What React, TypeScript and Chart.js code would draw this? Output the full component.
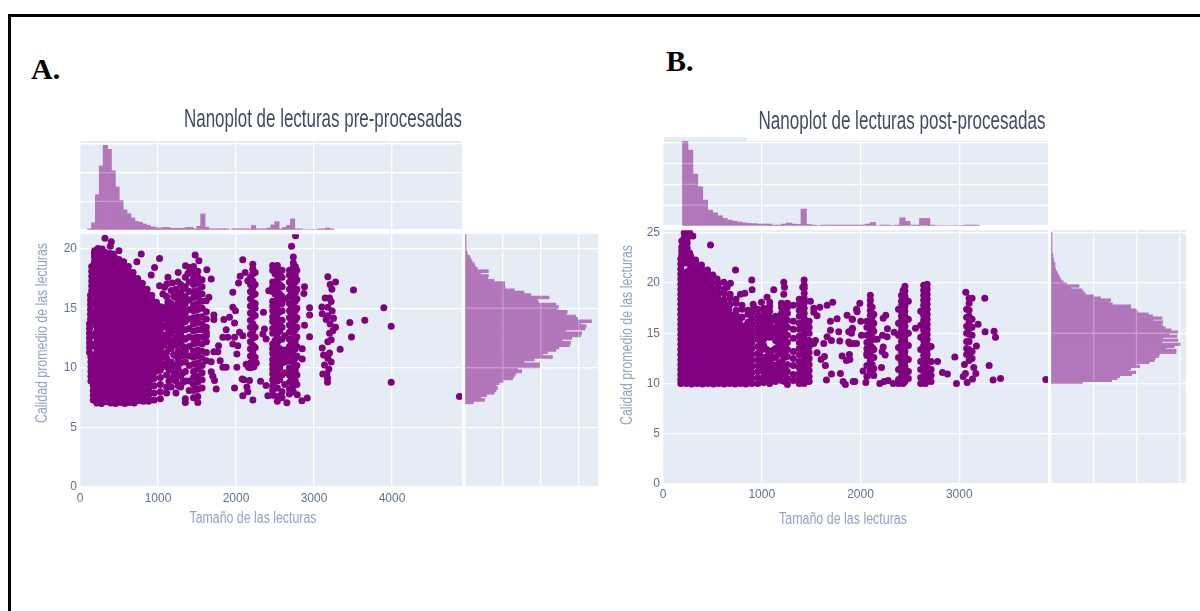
import React, { useEffect, useRef } from "react";
import { Chart, registerables } from "chart.js";

Chart.register(...registerables);

const PURPLE = "#800080";
const BAR = "#b276bb";
const PLOT_BG = "#e5ecf6";
const TICK = "#62718e";
const AXIS_TITLE = "#93a3bf";
const TITLE = "#3f4d63";
const NARROW = '"Liberation Sans Narrow", "Liberation Sans", sans-serif';

// ---------- Tick values ----------
const lengthTicksA = [0,1000,2000,3000,4000];
const lengthTicksB = [0,1000,2000,3000];
const qualityTicksA = [0,5,10,15,20];
const qualityTicksB = [0,5,10,15,20,25];
const countTicks = [0,100,200,300];
const countTicksTopB = [0,100,200,300,400];

// ---------- Panel A: top histogram (read length, bins of 50) ----------
const topBinsA = [100,150,200,250,300,350,400,450,500,550,600,650,700,750,800,850,900,950,1000,1050,1100,1150,1200,1250,1300,1350,1400,1450,1500,1550,1600,1650,1700,1750,1800,1850,1900,1950,2000,2050,2100,2150,2200,2250,2300,2350,2400,2450,2500,2550,2600,2650,2700,2750,2800,2850,2900,2950,3000,3050,3100,3150,3200];
const topCountsA = [3,24,122,222,294,280,205,149,102,69,56,41,29,26,20,15,10,8,6,8,8,5,5,5,5,8,8,3,12,55,9,3,3,3,3,3,0,3,3,3,3,3,15,3,3,3,6,17,28,3,8,15,38,3,3,0,0,0,0,3,3,6,3];

// ---------- Panel A: right histogram (mean quality, bins of 0.2) ----------
const rightCountsA = [21,51,41,56,76,81,85,81,89,100,125,129,133,149,138,196,196,155,182,230,204,217,239,247,275,278,256,281,304,307,265,316,319,304,333,296,291,267,269,243,246,239,193,190,221,173,155,129,105,104,104,76,59,61,41,61,32,26,24,18,15,12,6,4,2,2,1,1,1,1,1];

// ---------- Panel B: top histogram ----------
const topBinsB = [200,250,300,350,400,450,500,550,600,650,700,750,800,850,900,950,1000,1050,1100,1150,1200,1250,1300,1350,1400,1450,1500,1550,1600,1650,1700,1750,1800,1850,1900,1950,2000,2050,2100,2150,2200,2250,2300,2350,2400,2450,2500,2550,2600,2650,2700,2750,2800,2850,2900,2950,3000,3050,3100,3150];
const topCountsB = [406,363,248,187,123,75,62,48,35,27,22,18,14,11,10,8,8,8,3,3,8,13,8,6,80,6,3,0,3,3,3,3,3,3,3,3,3,8,16,0,3,3,0,3,38,21,3,3,35,35,3,0,0,0,0,0,0,3,3,3];

// ---------- Panel B: right histogram ----------
const rightCountsB = [73,141,154,160,188,198,182,186,207,200,229,241,243,251,253,292,292,268,288,302,259,296,261,294,276,296,280,267,261,257,261,239,259,237,227,202,199,186,186,143,135,139,115,99,80,76,72,46,65,36,28,23,20,18,15,13,10,9,7,9,6,5,4,4,3,1,1,1,1,1,1,1,1,1,1];

// ---------- Scatter A: each row is [read length, quality, quality, ...] ----------
const denseA = [
  [270,8.3,9.2,10.1,11,11.9,12.8,13.7,14.6,15.5,16.4,17.3,18.2,18.7],
  [410,8.3,9.2,10.1,11,11.9,12.8,13.7,14.6,15.5,16.4,17.3,18.2],
  [550,8.3,9.2,10.1,11,11.9,12.8,13.7,14.6,15.5,16.4,17.3,17.8],
  [690,8.3,9.2,10.1,11,11.9,12.8,13.7,14.6,15.5,16.4,16.8],
  [830,9.1,10,10.9,11.8,12.7,13.6,14.5,15.4,15.7],
  [970,10.2,11,11.8,12.6,13.4,14.2,14.8],
];
const edgeA = [
  [170,7.3,7.7,8.1,8.5],
  [140,8.9,9.3,9.7,10.1,10.5,10.9],
  [122,11.3,11.7,12.1,12.5,12.9,13.3,13.7],
  [135,14.1,14.5,14.9,15.3,15.7,16.1],
  [150,16.5,16.9,17.3,17.7,18.1,18.5],
  [185,18.9,19.3,19.6],
  [215,7.05,7.5,7.9],[275,7.0,7.45,7.85],[335,7.15,7.55,7.95],[395,7.05,7.5,7.9],[455,7.0,7.4,7.9],[515,7.1,7.5,7.95],[575,7.0,7.45,7.9],[635,7.1,7.5,7.9],[695,7.05,7.5,7.95],[755,7.25,7.6,8],[815,7.2,7.6,8.1],
  [230,19.5,19.1],[260,19.6,19.2],[320,19.7,19.3,18.9],[380,19.6,19.2,18.8],[440,19.3,18.9,18.5],[500,19.1,18.7,18.3],[560,18.9,18.5],[620,18.5,18.1,17.7],[680,18,17.6,17.2],[740,17.5,17.1,16.7],[800,17.1,16.7,16.3],[860,16.6,16.2],[920,16.1,15.7,15.3],[980,15.5,15.1],[1040,15.1,14.7],
  [880,7.2,7.7,8.2,8.7,9.1],[950,7.3,7.9,8.5,9.1,9.6],[1030,7.4,8,8.6,9.2,9.8],
  [1075,10.3,11.1,11.9,12.7,13.5,14.3],
  [1110,7.9,8.4,9.4,10.1,10.8,11.3,12.2,12.8,13.4,14,14.6,15.1,16],
  [1140,8.9,9.9,10.5,11.6,12.5,13.1,13.7,14.4,15.5],
  [1170,8.4,9,9.8,10.5,11.6,12,12.9,13.5,14.2,14.8,15.4,16.5],
  [1200,9.3,10.2,11.1,12.3,13.2,13.9,14.6,15.1,16],
  [1230,7.9,8.9,9.5,10.2,11,11.9,12.5,13.2,13.8,14.4,15.2,15.9,16.6],
  [1260,8.5,9.9,10.7,11.4,12.2,12.9,13.5,14.1,14.8,15.5,16.3],
  [1290,8.4,9.3,10.4,11.2,12,12.8,13.4,14,14.7,15.3,16.2,17],
  [1320,8.8,9.6,11,11.8,12.5,13.2,13.8,14.4,15,15.7,16.6],
  [1350,7.1,7.4,8.9,9.7,10.5,11.4,12.4,13.2,13.9,14.6,15.4,16,16.8,17.6],
  [1400,8.1,8.9,10.2,11,11.8,12.6,13.3,14.1,14.9,15.7,16.4,17.2,18],
  [1455,7.5,8.1,8.6,9.2,9.7,10.3,10.9,11.4,12,12.5,13.1,13.7,14.2,14.8,15.3,15.9,16.4,17,17.5,18,18.5],
  [1510,7.1,7.6,8.2,8.8,9.3,9.9,10.4,11,11.5,12.1,12.6,13.2,13.8,14.3,14.9,15.4,16,16.5,17.1,17.6,18.1],
  [1565,8.3,9,9.6,10.2,10.8,11.4,12,12.6,13.2,13.7,14.3,15,15.6,16.2,16.8,17.4],
  [1620,10.6,11.3,12.2,12.7,13,13.4,14.1,14.7],
];
const scatteredA = [
  [320,20.87],[401,20.59],[388,20.2],[230,20.03],[285,19.97],[187,19.83],[499,19.83],[422,19.55],[785,19.55],[1020,19.19],[729,18.91],[956,18.43],
  [1477,19.47],[1524,19],[1353,18.57],[1404,18.43],[913,17.79],[1259,18.01],[1127,17.6],[1383,17.9],[1626,18.24],[1682,17.46],[1255,17.23],[1182,17.12],
  [1020,16.9],[1084,16.76],[1114,17.04],[1255,16.06],[1063,16.2],[1127,15.5],[1652,15.92],[1618,15.64],[1716,14.44],[1716,14.05],[1844,14.05],[1916,14.24],
  [1959,16.34],[2087,19.08],[2053,17.68],[2117,18.01],[2032,17.12],[2151,17.32],[2420,16.48],[1959,15.08],[1993,14.8],[2352,14.66],[1981,13.77],[1874,13.2],
  [2365,13.26],[2344,12.84],[2386,12.42],[1831,12.56],[1895,12.56],[1981,12.56],[2045,12.98],[2087,12.7],[1959,12],[2023,11.86],[1776,11.86],[1716,11.36],
  [1767,11.36],[2011,11.16],[1682,10.52],[1797,10.6],[1831,10.05],[1874,10.05],[2011,10.05],[1682,9.68],[1703,9.29],[1724,8.93],[1746,8.23],[2079,9.07],
  [2173,8.93],[2314,8.87],[1981,8.31],[2087,7.67],[2151,8],[2216,7.3],[2408,7.67],[2386,8.51],
  [2763,21.1],[2712,20.2],[2878,16.8],[2870,16.25],[2943,15.05],[2943,14.44],[2878,13.57],[2943,12.62],[2849,11.6],[2849,10.75],[2913,7.47],[2844,7.25],[2785,7.75],[2652,7.08],
  [3177,17.65],[3276,17.2],[3207,17],[3229,16.6],[3506,16.53],[3895,15.05],[3651,14],[3459,13.8],[3989,13.5],[3480,12.6],[3335,11.56],[3989,8.8],[4864,7.6],
  [3143,15.86],[3199,15.86],[3220,15.58],[3100,15.1],[3177,15.08],[3233,14.77],[3105,14.55],[3177,14.38],[3250,14.16],[3156,14.05],[3207,13.68],[3276,13.4],[3241,13.12],[3199,12.9],[3220,12.37],[3177,12.2],
  [3105,11.67],[3199,11.25],[3122,11.08],[3177,10.8],[3220,10.5],[3135,10.24],[3190,9.9],[3113,9.49],[3165,9.49],[3173,9.12],[3173,8.8],
  [2130,10.3],[2160,10.05],[2190,10],[2230,10.1],[2260,10.4],[2100,9],[2140,8.4],
];
const stripsA = [
  [2185,10.4,11,11.6,12.2,12.8,13.4,14,14.6,15.2,15.8,16.4,17,17.6],
  [2215,10.7,11.3,11.9,12.5,13.1,13.7,14.3,14.9,15.5,16.1,16.7,17.3,17.9,18.3,18.7],
  [2245,10.9,11.7,12.6,13.4,14.4,15,15.4,16.2,17,18],
  [2470,18.6,18.2,17.2,16.8,16.4,15.6,15.2,14.8,14.3,13.9,13.3,12.9,12,11.6,11.2,10.7,10.3,9.9,9.5,9,8.5,8.1,7.7],
  [2500,17.9,16.2,15.4,14.6,13.8,13.1,12.3,11.5,10.8,10.1,9.2,8.3],
  [2530,18.6,18.1,17.7,17.3,16.9,16.5,16.1,15.7,15.3,14.9,14.5,14.1,13.7,13.3,12.9,12.5,12.1,11.7,11.3,10.9,10.5,10.1,9.7,9.3,8.9,8.3,7.6,7.2],
  [2560,17.9,17,16.2,15.5,14.7,13.9,13.1,12.4,11.6,10.8,10,9],
  [2590,18.2,17.6,16.8,16,15.4,14.8,14,13.4,12.4,11.2,10.4,9.4,8,7.5],
  [2625,11.5,11,10.5,12.7,15.8,8.6,9.6],
  [2685,18.2,17.8,17.2,16.6,16,15.4,14.8,14.2,13.6,13,12.4,11.8,11.2,10.6,10,9.4,8.8,8.2,7.8],
  [2710,17.5,16.8,16.2,15.2,14.4,13.8,13.2,12.2,11.6,10.8,9.7,9.1],
  [2735,19.3,18.8,18.4,18,17.5,17,16.5,16,15.5,15,14.5,14,13.5,13,12.5,12,11.5,11,10.5,10,9.5,9,8.5,8],
  [2760,18.5,17.8,17.2,16.3,15.6,14.8,14,13.2,12.3,11.6,10.8,9.8,8.9],
  [2780,18.2,17.4,16.6,15.8,15,14.2,13.4,12.6,11.8,11,10.2,9.4,8.6],
];

// ---------- Scatter B ----------
const denseB = [
  [280,10.9,12,13.1,14.2,15.3,16.4,17.5,18.6,19.7,20.7],
  [390,10.9,12,13.1,14.2,15.3,16.4,17.5,18.6,19.6],
  [500,10.9,12,13.1,14.2,15.3,16.4,17.5,18.5],
  [610,10.9,12,13.1,14.2,15.3,16.4,17.4],
  [720,10.9,12,13.1,14.2,15.3,16.3],
  [830,10.9,12,13.1,14.2,15.2],
];
const edgeB = [
  [180,10,10.4,10.9,11.4,11.9,12.4,12.9,13.4,13.9,14.4,14.9,15.4,15.9,16.4,16.9,17.4,17.9,18.4,18.9,19.4,19.9,20.4,20.9,21.4,21.9,22.4],
  [190,22.8,23.2,23.6,24.2],[215,22,22.5,23.3,23.7,24.1,24.5,25],[245,22,22.6,23,23.5,24,24.4,24.8],[270,22.6,23,25],
  [235,10,10.4],[290,9.95,10.35],[345,10,10.4],[400,9.95,10.35],[455,10,10.4],[510,9.95,10.35],[565,10,10.4],[620,9.95,10.35],[675,10,10.4],[730,9.95,10.35],[785,10,10.4],[840,9.95,10.35],
  [280,21.7,22.2,22.7],[330,21.2,21.6,22,22.3],[390,20.5,21,21.4,21.8],[450,20,20.6,21,21.3],[500,19.5,20.1,20.5],[560,19,19.6,20],[620,18.4,19,19.4],[680,17.9,18.5,18.9],[740,17.3,18,18.4],[800,16.6,17.4,17.8],[860,16.1,16.9,17.3],[920,17.6],
  [900,10,10.5,11.1,11.7,12.3,12.9,13.5,14.1,14.7,15.3,15.9,16.5,17.1],
  [960,10,10.6,11.2,11.8,12.4,13,13.7,14.4,15,15.6,16.2,16.8,17.4],
  [990,10.4,11.5,12.1,12.7,13.3,14,14.7,15.4,16,16.5],
  [1020,10.1,10.7,11.2,11.6,12.4,13.8,14.4,15.1,15.8,16.4,17,17.5],
  [1050,10.4,11,11.8,12.7,13.4,14.9,15.6,16.2,16.9],
  [1080,10,10.6,11.4,12.3,13,14.6,15.3,16,16.6,17.2,17.7],
  [1110,10.3,11.1,11.9,12.6,13.3,14.9,15.5,16.3],
  [1140,10.2,10.8,11.6,12.6,13.5,14.3,15,15.6,16.3,16.7],
  [1170,10.5,11.3,12,13,14,14.7,15.3,16,16.5],
  [1200,10.3,11,11.5,12.2,12.9,13.6,14.3,15,15.7,16.4,17,17.6,18],
  [1230,10.2,10.9,11.6,12.6,13.2,14,14.6,15.3,16.1,16.7,17.3,17.9],
  [1260,9.9,10.5,11.2,11.9,12.7,13.4,14.1,14.8,15.6,16.3,17,17.6,18],
  [1320,10.3,10.9,11.8,12.5,13.2,14.5,15.4,16.2,17.8],
  [1380,10,10.5,11,11.6,12.2,12.9,13.5,14.1,14.7,15.4,16,16.7,17.3,17.9,18.4],
  [1430,10,10.5,11,11.5,12,12.5,13,13.5,14,14.5,15,15.5,16,16.5,17,17.5,18,18.5,19,19.5,19.8],
  [1480,10.2,10.7,11.3,11.9,12.5,13.1,13.7,14.3,15,15.6,16.2],
];
const scatteredB = [
  [302,24.7],[481,23.8],[734,21.3],[899,20.3],[902,19.35],[504,20.8],[548,20.4],[616,20.1],[683,20],[649,19.6],[784,18.9],[828,19],[1122,19.35],[1223,20.1],[1230,19.6],[1223,18.9],[1054,18.6],[1081,18.1],[913,17.9],[997,18.1],
  [1429,20.3],[1415,19.6],[1493,18.2],[1588,17.6],[1662,17.8],[1719,18.1],[1527,17.5],[1527,17.1],[1560,16.75],[1864,16.8],[1696,16.2],[1763,16.45],[1915,16.4],[1696,15.3],[1780,15.15],[1881,15.15],[1915,15.4],
  [1662,14.65],[1628,14],[1706,14.3],[1790,14.25],[1881,14.15],[1925,14],[1544,14.3],[1527,14],[1560,13.07],[1635,12.7],[1601,12.4],[1814,12.75],[1888,12.9],[1858,12.3],[1645,11.8],[1706,10.95],[1797,11],[1655,10.35],[1824,10.2],[1847,9.9],[1925,10.2],
  [1993,18],[1960,17.4],[1966,17.15],[1919,16.4],[2003,16.2],[2256,16.8],[2230,16.5],[2273,15.45],[2341,15.1],[1919,15.5],[1909,15],[1892,14],[1960,14],[2010,14.8],[2223,14.8],[2270,14.65],[2169,14.4],[2230,13.65],[2219,13.2],[2250,12.85],[1892,12.4],[2213,11.6],[2027,11.25],[1943,10.2],[2054,10.1],[2196,10],[2240,10.2],[2280,10.3],[2331,10],
  [2557,15.5],[2780,12.2],[2830,11.1],[2881,10.95],[2955,12.65],[2972,10],[3040,10.7],[3063,11],[3053,11.9],[3080,10.1],[3134,10.45],[3168,11],[3147,11.6],[3191,15.9],[3259,18.5],[3067,19.1],[3262,15.15],[3353,15.2],[3367,14.6],[3174,13.75],[3303,11.8],[3343,10.35],[3418,10.5],[3877,10.4],
];
const stripsB = [
  [2065,12.8,13.5,14.1,14.8,15.6,16.2,13,11.8,10.7],
  [2100,18.8,18.3,17.8,17.3,16.8,16.3,15.8,15.3,14.8,14.3,13.8,13.3,12.8,12.3,11.8,11.3,10.9],
  [2118,17.6,16.6,15.6,14.6,13.6,12.7,11.9,11.1],
  [2135,16.9,16,15.2,14.4,13.4,12.6,11.5,10.8],
  [2385,17.4,16,14.8,13.6,12.6,11.4,10.4,10],
  [2415,18.8,18.2,17.7,17.2,16.7,16.2,15.7,15.2,14.7,14.2,13.7,13.2,12.7,12.2,11.7,11.2,10.7,10.2],
  [2432,19.3,18.5,17.5,16.5,15.5,14.5,13.5,12.5,11.5,10.5,10],
  [2450,19.7,19.2,18.7,18.2,17.7,17.2,16.7,16.2,15.7,15.2,14.7,14.2,13.7,13.2,12.7,12.2,11.7,11.2,10.7,10.2],
  [2485,18.2,16.4,15,13.8,12.4,11.2,10.5],
  [2610,17.2,15.8,14.6,13.4,12.2,11.4,10.6,10],
  [2640,19.8,19.3,18.8,18.3,17.8,17.3,16.8,16.3,15.8,15.3,14.8,14.3,13.8,13.3,12.8,12.3,11.8,11.3,10.8,10.3],
  [2658,19.5,18.5,17.5,16.5,15.5,14.5,13.5,12.5,11.5,10.5,10],
  [2675,19.9,19.4,18.9,18.4,17.9,17.4,16.9,16.4,15.9,15.4,14.9,14.4,13.9,13.4,12.9,12.4,11.9,11.4,10.9,10.4],
  [2715,13.7,12.2,11.4,10.8,10.2],
  [3075,17.4,16.6,15.7,15,14.2,13.5,12.9],
  [3100,18.5,18,17.3,16.7,16.1,15.5,14.9,14.2,13.4,12.8,12.3],
  [3130,18.5,16.4,15.6,14.8,13.2,12.5],
];

function toPoints(rows: number[][]) {
  return rows.flatMap(([x, ...ys]) => ys.map((y) => ({ x, y })));
}
function binned(bins: number[], counts: number[], halfWidth: number) {
  return bins.map((b, i) => ({ x: b + halfWidth, y: counts[i] }));
}
function qualityBins(start: number, counts: number[]) {
  return counts.map((c, i) => ({ x: c, y: Math.round((start + 0.1 + 0.2 * i) * 10) / 10 }));
}

const bgPlugin = {
  id: "plotBg",
  beforeDraw(chart: any) {
    const { ctx, chartArea: a } = chart;
    ctx.save();
    ctx.fillStyle = PLOT_BG;
    ctx.fillRect(a.left, a.top, a.right - a.left, a.bottom - a.top);
    ctx.restore();
  },
};
// the reference's bars are translucent, so the grid shows faintly through them
const gridThrough = {
  id: "gridThrough",
  afterDatasetsDraw(chart: any) {
    const { ctx, chartArea: a, scales } = chart;
    ctx.save();
    ctx.strokeStyle = "rgba(255,255,255,0.28)";
    ctx.lineWidth = 1.3;
    ctx.beginPath();
    scales.x.ticks.forEach((t: any) => {
      const p = scales.x.getPixelForValue(t.value);
      ctx.moveTo(p, a.top);
      ctx.lineTo(p, a.bottom);
    });
    scales.y.ticks.forEach((t: any) => {
      const p = scales.y.getPixelForValue(t.value);
      ctx.moveTo(a.left, p);
      ctx.lineTo(a.right, p);
    });
    ctx.stroke();
    ctx.restore();
  },
};

const noLegend = { legend: { display: false }, tooltip: { enabled: false }, title: { display: false } };
const gridOpts = { color: "#ffffff", lineWidth: 1.3, drawTicks: false, offset: false };
const hiddenAxis = (max: number, tickValues: number[]) => ({
  type: "linear",
  min: 0,
  max,
  offset: false,
  border: { display: false },
  grid: gridOpts,
  ticks: { display: false },
  afterBuildTicks: (s: any) => {
    s.ticks = tickValues.map((value) => ({ value }));
  },
  afterFit: (s: any) => {
    if (s.isHorizontal()) s.height = 0;
    else s.width = 0;
  },
});
const labelAxis = (max: number, tickValues: number[], pad: number, size: number) => ({
  type: "linear",
  min: 0,
  max,
  border: { display: false },
  grid: gridOpts,
  ticks: {
    autoSkip: false,
    maxRotation: 0,
    padding: pad,
    color: TICK,
    font: { family: "Liberation Sans", size: 12 },
    callback: (v: any) => String(v),
  },
  afterBuildTicks: (s: any) => {
    s.ticks = tickValues.map((value) => ({ value }));
  },
  afterFit: (s: any) => {
    if (s.isHorizontal()) s.height = size;
    else s.width = size;
  },
});

function scatterConfig(dense: number[][], rest: number[][], xMax: number, yMax: number, xTicks: number[], yTicks: number[], xPad: number) {
  return {
    type: "scatter",
    data: {
      datasets: [
        { data: toPoints(dense), pointRadius: 9, backgroundColor: PURPLE, borderWidth: 0, clip: 0 },
        { data: toPoints(rest), pointRadius: 3.5, backgroundColor: PURPLE, borderWidth: 0, clip: 0 },
      ],
    },
    options: {
      responsive: false,
      animation: false,
      events: [],
      layout: { padding: { top: 10, right: 20, left: 0, bottom: 0 } },
      plugins: noLegend,
      scales: { x: labelAxis(xMax, xTicks, xPad, 30), y: labelAxis(yMax, yTicks, 3, 60) },
    },
    plugins: [bgPlugin],
  };
}
function histConfig(points: any[], horizontal: boolean, xAxis: any, yAxis: any) {
  return {
    type: "bar",
    data: { datasets: [{ data: points, backgroundColor: BAR, barPercentage: 1, categoryPercentage: 1, borderWidth: 0, inflateAmount: 0.6 }] },
    options: {
      indexAxis: horizontal ? "y" : "x",
      responsive: false,
      animation: false,
      events: [],
      plugins: noLegend,
      scales: { x: xAxis, y: yAxis },
    },
    plugins: [bgPlugin, gridThrough],
  };
}

const AX = 4897, AY = 21.22, BX = 3899, BY = 25.27;
const panels = [
  { left: 20, top: 224, width: 462, height: 293, make: () => scatterConfig(denseA, [...edgeA, ...scatteredA, ...stripsA], AX, AY, lengthTicksA, qualityTicksA, 4) },
  { left: 80, top: 141, width: 382, height: 89, make: () => histConfig(binned(topBinsA, topCountsA, 25), false, hiddenAxis(AX, lengthTicksA), hiddenAxis(310, countTicks)) },
  { left: 465, top: 234, width: 133, height: 253, make: () => histConfig(qualityBins(7, rightCountsA), true, hiddenAxis(351, countTicks), hiddenAxis(AY, qualityTicksA)) },
  { left: 603, top: 220, width: 465, height: 294, make: () => scatterConfig(denseB, [...edgeB, ...scatteredB, ...stripsB], BX, BY, lengthTicksB, qualityTicksB, 3) },
  { left: 663, top: 141, width: 385, height: 85, make: () => histConfig(binned(topBinsB, topCountsB, 25), false, hiddenAxis(BX, lengthTicksB), hiddenAxis(408, countTicksTopB)) },
  { left: 1051, top: 230, width: 135, height: 254, make: () => histConfig(qualityBins(10, rightCountsB), true, hiddenAxis(316, countTicks), hiddenAxis(BY, qualityTicksB)) },
];

function Label(p: { text: string; cx: number; cy: number; w: number; size: number; color: string; rotate?: boolean }) {
  const ctx = document.createElement("canvas").getContext("2d")!;
  ctx.font = `${p.size}px ${NARROW}`;
  const k = p.w / ctx.measureText(p.text).width;
  return (
    <div
      style={{
        position: "absolute",
        left: p.cx,
        top: p.cy,
        whiteSpace: "nowrap",
        color: p.color,
        fontFamily: NARROW,
        fontSize: p.size,
        lineHeight: 1,
        transform: `translate(-50%,-50%) ${p.rotate ? "rotate(-90deg) " : ""}scaleX(${k})`,
      }}
    >
      {p.text}
    </div>
  );
}

export default function App() {
  const refs = useRef<(HTMLCanvasElement | null)[]>([]);
  useEffect(() => {
    const charts = panels.map((p, i) => new Chart(refs.current[i]!, p.make() as any));
    return () => charts.forEach((c) => c.destroy());
  }, []);
  const letter = (text: string, left: number, top: number) => (
    <div style={{ position: "absolute", left, top, fontFamily: '"Liberation Serif", serif', fontWeight: 700, fontSize: 30, lineHeight: "30px", color: "#000" }}>{text}</div>
  );
  return (
    <div style={{ position: "absolute", left: 0, top: 0, width: 1200, height: 611, overflow: "hidden", background: "#fff", filter: "blur(0.45px)" }}>
      <div style={{ position: "absolute", left: 8, top: 14, width: 1192, height: 3, background: "#000" }} />
      <div style={{ position: "absolute", left: 8, top: 14, width: 3, height: 597, background: "#000" }} />
      {letter("A.", 31, 54)}
      {letter("B.", 666, 46)}
      <div style={{ position: "absolute", left: 664, top: 136.5, width: 82.5, height: 5, background: PLOT_BG }} />
      {panels.map((p, i) => (
        <canvas
          key={i}
          ref={(el) => {
            refs.current[i] = el;
          }}
          width={p.width}
          height={p.height}
          style={{ position: "absolute", left: p.left, top: p.top }}
        />
      ))}
      <Label text="Nanoplot de lecturas pre-procesadas" cx={323} cy={118} w={278} size={25} color={TITLE} />
      <Label text="Nanoplot de lecturas post-procesadas" cx={902} cy={119.5} w={287} size={25} color={TITLE} />
      <Label text="Tamaño de las lecturas" cx={253} cy={518} w={127} size={16} color={AXIS_TITLE} />
      <Label text="Tamaño de las lecturas" cx={843} cy={519} w={128} size={16} color={AXIS_TITLE} />
      <Label text="Calidad promedio de las lecturas" cx={42} cy={332.7} w={180} size={16} color={AXIS_TITLE} rotate />
      <Label text="Calidad promedio de las lecturas" cx={627} cy={335} w={180} size={16} color={AXIS_TITLE} rotate />
    </div>
  );
}
